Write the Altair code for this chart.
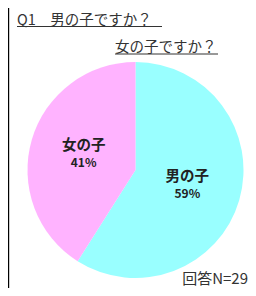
import altair as alt
import pandas as pd

categories = ["男の子", "女の子"]
values = [59, 41]
pct_labels = ["59%", "41%"]
colors = ["#99FFFF", "#FFB3FF"]
title1 = "Q1　男の子ですか？"
title2 = "女の子ですか？"
note = "回答N=29"

df = pd.DataFrame({"cat": categories, "val": values, "pct": pct_labels, "ord": [0, 1]})

CX, CY, R = 127.5, 162, 108
FONT = "Noto Sans CJK JP"

base = alt.Chart(df).encode(
    theta=alt.Theta("val:Q", stack=True),
    order=alt.Order("ord:Q"),
)

pie = base.mark_arc(radius=R).encode(
    x=alt.value(CX), y=alt.value(CY),
    color=alt.Color("cat:N", scale=alt.Scale(domain=categories, range=colors), legend=None),
)

name_txt = base.mark_text(radius=54, dy=-8.5, font=FONT, fontWeight="bold", fontSize=14.5, color="#222222").encode(
    x=alt.value(CX), y=alt.value(CY), text="cat:N")
pct_txt = base.mark_text(radius=54, dy=8.5, font=FONT, fontWeight="bold", fontSize=12, color="#222222").encode(
    x=alt.value(CX), y=alt.value(CY), text="pct:N")

one = pd.DataFrame({"a": [0]})
t1 = alt.Chart(one).mark_text(align="left", baseline="alphabetic", font=FONT, fontSize=14.5, color="#333333").encode(
    x=alt.value(9), y=alt.value(16.5), text=alt.value(title1))
u1 = alt.Chart(one).mark_rule(color="#333333", strokeWidth=1).encode(
    x=alt.value(9), x2=alt.value(154), y=alt.value(18.5))
t2 = alt.Chart(one).mark_text(align="left", baseline="alphabetic", font=FONT, fontSize=14.5, color="#333333").encode(
    x=alt.value(107), y=alt.value(43.5), text=alt.value(title2))
u2 = alt.Chart(one).mark_rule(color="#333333", strokeWidth=1).encode(
    x=alt.value(107), x2=alt.value(210), y=alt.value(46))
t3 = alt.Chart(one).mark_text(align="right", baseline="alphabetic", font=FONT, fontSize=15, color="#333333").encode(
    x=alt.value(240), y=alt.value(276), text=alt.value(note))
border = alt.Chart(one).mark_rule(color="#000000", strokeWidth=1.2).encode(
    x=alt.value(0.6), y=alt.value(0), y2=alt.value(280))

chart = alt.layer(pie, name_txt, pct_txt, t1, u1, t2, u2, t3, border).properties(
    width=240, height=280, padding=0, autosize=alt.AutoSizeParams(type="none")
).configure_view(stroke=None)

chart.save("out.html", embed_options={"renderer": "svg", "actions": False})
